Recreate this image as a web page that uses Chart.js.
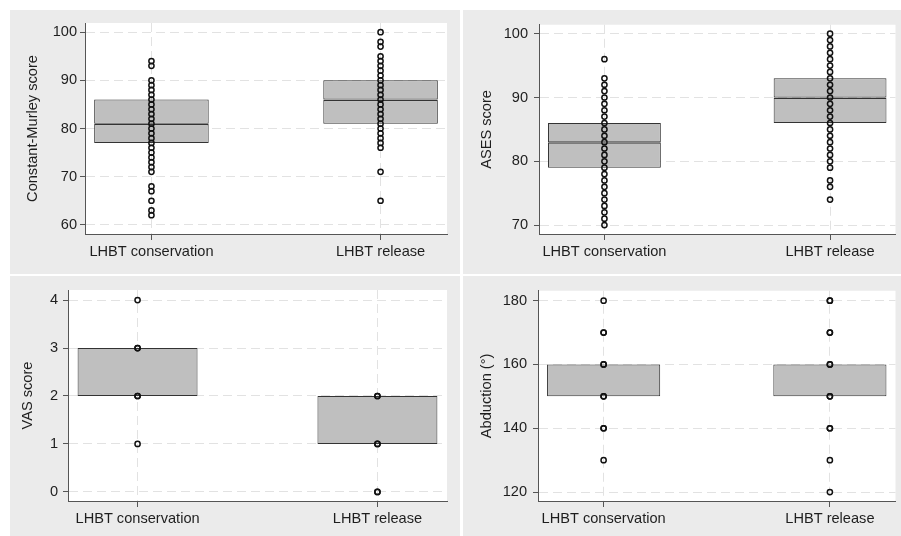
<!DOCTYPE html>
<html>
<head>
<meta charset="utf-8">
<script src="https://cdn.jsdelivr.net/npm/chart.js@4.4.0/dist/chart.umd.min.js"></script>
<style>
  body { margin: 0; background: #fff; }
  .panel { position: absolute; background: #ebebeb; }
</style>
</head>
<body>
<div class="panel" style="left:10px;top:10px;width:450px;height:264px"><canvas id="cm"></canvas></div>
<div class="panel" style="left:463px;top:10px;width:438px;height:264px"><canvas id="ases"></canvas></div>
<div class="panel" style="left:10px;top:276px;width:450px;height:260px"><canvas id="vas"></canvas></div>
<div class="panel" style="left:463px;top:276px;width:438px;height:260px"><canvas id="abd"></canvas></div>
<script>
// groups on the x axis
const categories = ['LHBT conservation', 'LHBT release']

// Constant-Murley score
const cmConservation = [94, 93, 90, 89, 88, 87, 86, 85, 84, 83, 82, 81, 80, 79, 78, 77, 76, 75, 74, 73, 72, 71, 68, 67, 65, 63, 62]
const cmRelease = [100, 98, 97, 95, 94, 93, 92, 91, 90, 89, 88, 87, 86, 85, 84, 83, 82, 81, 80, 79, 78, 77, 76, 71, 65]
const cmQ1 = [77, 81]
const cmMedian = [81, 86]
const cmQ3 = [86, 90]
const cmTicks = [60, 70, 80, 90, 100]

// ASES score
const asesConservation = [96, 93, 92, 91, 90, 89, 88, 87, 86, 85, 84, 83, 82, 81, 80, 79, 78, 77, 76, 75, 74, 73, 72, 71, 70]
const asesRelease = [100, 99, 98, 97, 96, 95, 94, 93, 92, 91, 90, 89, 88, 87, 86, 85, 84, 83, 82, 81, 80, 79, 77, 76, 74]
const asesQ1 = [79, 86]
const asesMedian = [83, 90]
const asesQ3 = [86, 93]
const asesTicks = [70, 80, 90, 100]

// VAS score
const vasConservation = [4, 3, 3, 2, 2, 1]
const vasRelease = [2, 2, 1, 1, 0, 0]
const vasQ1 = [2, 1]
const vasMedian = [2, 1]
const vasQ3 = [3, 2]
const vasTicks = [0, 1, 2, 3, 4]

// Abduction (degrees)
const abdConservation = [180, 170, 170, 160, 160, 150, 150, 140, 140, 130]
const abdRelease = [180, 180, 170, 170, 160, 160, 150, 150, 140, 140, 130, 120]
const abdQ1 = [150, 150]
const abdMedian = [150, 150]
const abdQ3 = [160, 160]
const abdTicks = [120, 140, 160, 180]

Chart.defaults.font.family = "'Liberation Sans', Arial, sans-serif"
Chart.defaults.font.size = 14.6
Chart.defaults.color = '#1e1e1e'

const plotBg = {
    id: 'plotBg',
    beforeDraw(chart) {
        const a = chart.chartArea
        chart.ctx.save()
        chart.ctx.fillStyle = '#ffffff'
        chart.ctx.fillRect(a.left, a.top, a.right - a.left, a.bottom - a.top)
        chart.ctx.restore()
    }
}

function boxChart(id, title, groups, q1, med, q3, ticks, lay) {
    const boxStyle = {
        backgroundColor: '#bfbfbf',
        borderColor: '#333',
        borderSkipped: false,
        grouped: false,
        categoryPercentage: 1,
        barPercentage: 0.5,
        order: 2
    }
    const lower = categories.map((c, i) => ({ x: i, y: [q1[i], med[i]] }))
    const upper = categories.map((c, i) => ({ x: i, y: [med[i], q3[i]] }))
    const points = groups.map((vals, i) => ({
        type: 'scatter',
        data: vals.map(v => ({ x: i, y: v })),
        pointRadius: 2.6,
        pointBorderWidth: 1.5,
        pointBorderColor: '#111',
        pointBackgroundColor: 'rgba(0,0,0,0)',
        order: 0
    }))

    new Chart(document.getElementById(id), {
        type: 'bar',
        data: {
            datasets: [
                ...points,
                Object.assign({ data: lower, borderWidth: { top: 1.6, bottom: 1, left: 1, right: 1 } }, boxStyle),
                Object.assign({ data: upper, borderWidth: { top: 1, bottom: 1, left: 1, right: 1 } }, boxStyle)
            ]
        },
        options: {
            responsive: true,
            maintainAspectRatio: false,
            animation: false,
            layout: { padding: { top: lay.top, right: lay.right, left: 0, bottom: 0 } },
            plugins: { legend: { display: false }, tooltip: { enabled: false } },
            scales: {
                x: {
                    type: 'linear',
                    min: -0.29,
                    max: 1.29,
                    offset: false,
                    afterBuildTicks: s => { s.ticks = [{ value: 0 }, { value: 1 }] },
                    afterFit: s => { s.height = lay.xh },
                    ticks: {
                        callback: v => categories[v],
                        autoSkip: false,
                        maxRotation: 0,
                        padding: 3,
                        color: '#1e1e1e'
                    },
                    grid: { offset: false, color: '#e2e2e2', tickColor: '#555', tickLength: 6, lineWidth: 1 },
                    border: { color: '#555', width: 1, dash: [9, 5] }
                },
                y: {
                    min: lay.min,
                    max: lay.max,
                    afterBuildTicks: s => { s.ticks = ticks.map(v => ({ value: v })) },
                    afterFit: s => { s.width = lay.yw },
                    ticks: { padding: lay.tp, color: '#1e1e1e' },
                    grid: { color: '#e2e2e2', tickColor: '#555', tickLength: 5, lineWidth: 1 },
                    border: { color: '#555', width: 1, dash: [9, 5] },
                    title: {
                        display: true,
                        text: title,
                        color: '#1e1e1e',
                        font: { size: 14.6 },
                        padding: { top: lay.ttl, bottom: 0 }
                    }
                }
            }
        },
        plugins: [plotBg]
    })
}

boxChart('cm', 'Constant-Murley score', [cmConservation, cmRelease], cmQ1, cmMedian, cmQ3, cmTicks,
    { top: 13, right: 13, xh: 40, yw: 75, tp: 3, ttl: 14, min: 58.1, max: 101.9 })
boxChart('ases', 'ASES score', [asesConservation, asesRelease], asesQ1, asesMedian, asesQ3, asesTicks,
    { top: 13, right: 0, xh: 40, yw: 76, tp: 6, ttl: 15, min: 68.6, max: 101.4 })
boxChart('vas', 'VAS score', [vasConservation, vasRelease], vasQ1, vasMedian, vasQ3, vasTicks,
    { top: 14, right: 13, xh: 35, yw: 58, tp: 5, ttl: 9.5, min: -0.19, max: 4.21 })
boxChart('abd', 'Abduction (°)', [abdConservation, abdRelease], abdQ1, abdMedian, abdQ3, abdTicks,
    { top: 14, right: 0, xh: 35, yw: 75, tp: 6, ttl: 15, min: 117.2, max: 183.1 })
</script>
</body>
</html>
